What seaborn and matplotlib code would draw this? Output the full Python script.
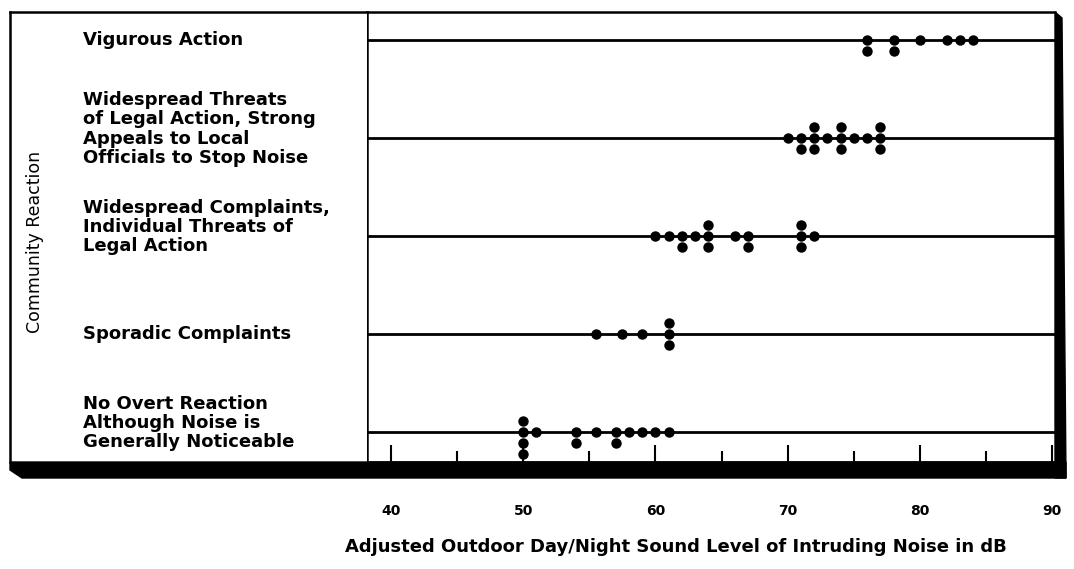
import pandas as pd
import matplotlib
matplotlib.use('Agg')
import matplotlib.pyplot as plt
from matplotlib.patches import Polygon
from matplotlib.ticker import MultipleLocator
import seaborn as sns

# Community reaction categories, top to bottom
reaction_labels = [
    'Vigurous Action',
    'Widespread Threats\nof Legal Action, Strong\nAppeals to Local\nOfficials to Stop Noise',
    'Widespread Complaints,\nIndividual Threats of\nLegal Action',
    'Sporadic Complaints',
    'No Overt Reaction\nAlthough Noise is\nGenerally Noticeable',
]

# Adjusted outdoor day/night sound level (dB) for each case
vigorous_db = [76, 76, 78, 78, 80, 82, 83, 84]
threats_db = [70, 71, 71, 72, 72, 72, 73, 74, 74, 74, 75, 76, 77, 77, 77]
complaints_db = [60, 61, 62, 62, 63, 64, 64, 64, 66, 67, 67, 71, 71, 71, 72]
sporadic_db = [55.5, 57.5, 59, 61, 61, 61]
no_reaction_db = [50, 50, 50, 50, 51, 54, 54, 55.5, 57, 57, 58, 59, 60, 61]

tick_values = [40, 50, 60, 70, 80, 90]
x_label = 'Adjusted Outdoor Day/Night Sound Level of Intruding Noise in dB'
y_label = 'Community Reaction'


def build_frame():
    groups = [vigorous_db, threats_db, complaints_db, sporadic_db, no_reaction_db]
    rows = []
    for label, values in zip(reaction_labels, groups):
        for v in values:
            rows.append({'reaction': label, 'level': v})
    return pd.DataFrame(rows)


data = build_frame()

sns.set_style('white')
plt.rcParams['font.family'] = ['DejaVu Sans']
plt.rcParams['text.color'] = 'black'
plt.rcParams['xtick.color'] = 'black'

W, H = 1074, 569
fig = plt.figure(figsize=(W / 100, H / 100), dpi=100)


def fx(px):
    return px / W


def fy(py):
    return 1 - py / H


top_px, bottom_px = 12, 462
left_px, split_px, right_px = 10, 367, 1055

ax = fig.add_axes([fx(split_px), fy(bottom_px), fx(right_px - split_px),
                   (bottom_px - top_px) / H])
panel = fig.add_axes([fx(left_px), fy(bottom_px), fx(split_px - left_px),
                      (bottom_px - top_px) / H])

sns.swarmplot(data=data, x='level', y='reaction', order=reaction_labels,
              color='black', size=7.5, ax=ax, orient='h')

ax.set_xlim(38.2, 90.2)
ax.set_ylim(4.306, -0.286)
ax.set_axisbelow(True)
ax.yaxis.grid(True, color='black', linewidth=2)
ax.xaxis.grid(False)
ax.set_xlabel('')
ax.set_ylabel('')
ax.tick_params(axis='y', left=False, labelleft=False)
ax.set_xticks(tick_values)
ax.xaxis.set_minor_locator(MultipleLocator(5))
ax.tick_params(axis='x', which='both', bottom=True)
ax.tick_params(axis='x', which='major', direction='in', length=12, width=1.5,
               color='black', pad=30, labelsize=10)
ax.tick_params(axis='x', which='minor', direction='in', length=8, width=1.5,
               color='black')
for lbl in ax.get_xticklabels():
    lbl.set_fontweight('bold')
for side in ['top', 'left', 'bottom']:
    ax.spines[side].set_color('black')
    ax.spines[side].set_linewidth(1.8)
ax.spines['right'].set_visible(False)

# left label panel
panel.set_ylim(4.306, -0.286)
panel.set_xlim(0, 1)
panel.set_xticks([])
panel.set_yticks([])
for side in ['top', 'left']:
    panel.spines[side].set_color('black')
    panel.spines[side].set_linewidth(1.8)
panel.spines['right'].set_visible(False)
panel.spines['bottom'].set_visible(False)
for i, label in enumerate(reaction_labels):
    # multi-line labels sit a little above their row line
    lift = 6.5 if '\n' in label else 0
    panel.annotate(label, (0.205, i), xytext=(0, lift), textcoords='offset points',
                   ha='left', va='center', fontsize=13, fontweight='bold',
                   linespacing=1.08)
panel.text(0.07, 0.49, y_label, rotation=90, ha='center', va='center',
           fontsize=12.5, transform=panel.transAxes)

# heavy shadow edges of the frame
shadow_bottom = Polygon([(fx(left_px), fy(bottom_px)), (fx(1066), fy(bottom_px)),
                         (fx(1066), fy(478)), (fx(22), fy(478)),
                         (fx(left_px), fy(470))],
                        closed=True, transform=fig.transFigure, color='black')
shadow_right = Polygon([(fx(right_px), fy(top_px)), (fx(1062), fy(18)),
                        (fx(1066), fy(478)), (fx(right_px), fy(478))],
                       closed=True, transform=fig.transFigure, color='black')
fig.add_artist(shadow_bottom)
fig.add_artist(shadow_right)

fig.text(fx(676), fy(547), x_label, ha='center', va='center', fontsize=13,
         fontweight='bold')

plt.savefig('out.png', dpi=100)
plt.close()
